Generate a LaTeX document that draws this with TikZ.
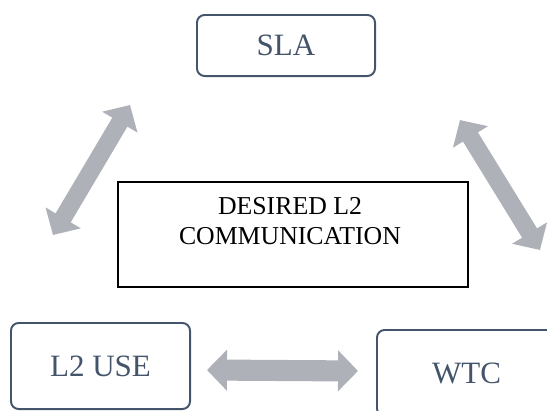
\documentclass[tikz,border=0pt]{standalone}
\usepackage{fontspec}
\setmainfont{Liberation Serif}
\usetikzlibrary{arrows.meta}
\definecolor{slateStroke}{HTML}{44546A}
\definecolor{arrowGrey}{HTML}{AEB1B8}
\definecolor{inkText}{HTML}{000000}

\begin{document}
\begin{tikzpicture}[
  x=0.03cm, y=-0.03cm,
  stage/.style={draw=slateStroke, line width=1.7pt, rounded corners=6.5pt,
                text=slateStroke, font=\fontsize{26.5}{30}\selectfont,
                align=center, inner sep=0pt},
  core/.style={draw=inkText, line width=1pt, minimum width=10.5cm,
               minimum height=3.15cm, inner sep=0pt},
  coretext/.style={font=\fontsize{22}{25}\selectfont, align=center,
                   text=inkText, inner sep=0pt},
  link/.style={{Triangle[width=34pt,length=17pt]}-{Triangle[width=34pt,length=17pt]},
               draw=arrowGrey, line width=15pt},
]
% ---------------- FRAME (px grid, y down) ----------------
\clip (0,0) rectangle (547,410);

% ---------------- NODES ----------------
\node[stage, minimum width=5.34cm, minimum height=1.83cm] (SLA) at (286,45.5) {SLA};
\node[stage, minimum width=5.37cm, minimum height=2.58cm] (USE) at (100.5,366) {L2 USE};
\node[stage, minimum width=5.37cm, minimum height=2.58cm] (WTC) at (466.5,373) {WTC};

\node[core] (DESIRED) at (293,234.5) {};
\node[coretext] (DESIREDlbl) at (290,221) {DESIRED L2\\COMMUNICATION};

% ---------------- EDGES ----------------
\coordinate (slaL) at (130,105);
\coordinate (useT) at (53,235);
\draw[link] (useT) -- (slaL);
\coordinate (slaR) at (460,120);
\coordinate (wtcT) at (540,250);
\draw[link] (slaR) -- (wtcT);
\coordinate (useR) at (207,370);
\coordinate (wtcL) at (358,371);
\draw[link, line width=18pt] (useR) -- (wtcL);
\end{tikzpicture}
\end{document}
